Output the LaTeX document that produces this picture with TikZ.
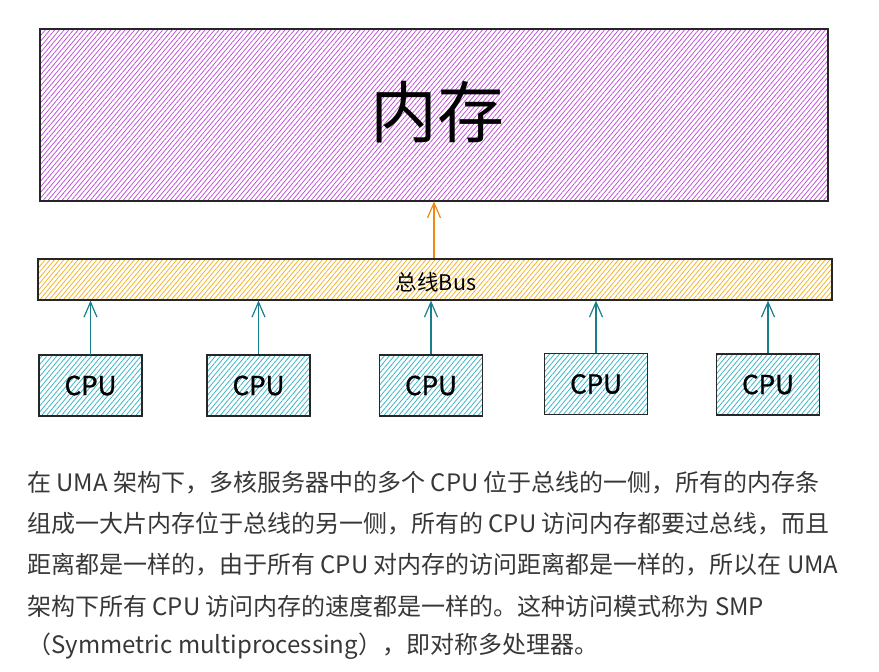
\documentclass[tikz,border=0pt]{standalone}
\usepackage{fontspec}
\setmainfont{Noto Sans CJK SC}
\newfontfamily\cpufont[FakeBold=1.2]{Noto Sans CJK SC}
\usetikzlibrary{patterns.meta,arrows.meta}
\definecolor{memhatch}{HTML}{BE4BDB}
\definecolor{bushatch}{HTML}{F2B01E}
\definecolor{cpuhatch}{HTML}{3BB5C6}
\definecolor{tealarrow}{HTML}{167E8C}
\definecolor{orangearrow}{HTML}{EE8A12}
\definecolor{bodytext}{HTML}{373737}
\tikzset{
  membox/.style={draw=black!85, line width=1.2pt, minimum width=788pt, minimum height=172pt, inner sep=0pt,
    pattern={Lines[angle=50,distance=3.6pt,line width=0.75pt]}, pattern color=memhatch},
  busbox/.style={draw=black!85, line width=1.2pt, minimum width=794pt, minimum height=41pt, inner sep=0pt,
    pattern={Lines[angle=50,distance=3.6pt,line width=0.75pt]}, pattern color=bushatch},
  cpubox/.style={draw=black!85, line width=1.2pt, minimum width=103pt, minimum height=61pt, inner sep=0pt,
    pattern={Lines[angle=50,distance=3.8pt,line width=0.8pt]}, pattern color=cpuhatch,
    font=\cpufont\fontsize{26}{30}\selectfont},
  tealarr/.style={draw=tealarrow, line width=1.2pt, -{Straight Barb[length=15pt,width=13pt,line width=1.2pt]}},
  orangearr/.style={draw=orangearrow, line width=1.2pt, -{Straight Barb[length=15pt,width=13pt,line width=1.2pt]}},
  para/.style={anchor=west, inner sep=0pt, text=bodytext, font=\fontsize{24}{28}\selectfont}
}
\begin{document}
\begin{tikzpicture}[x=1pt,y=-1pt]
\useasboundingbox (0,0) rectangle (879,672);
\node[membox] (mem) at (434,115) {};
\node[font=\fontsize{67}{72}\selectfont] (memlabel) at (437,112) {内存};
\node[busbox] (bus) at (435,279.5) {};
\node[font=\fontsize{21.5}{24}\selectfont] (buslabel) at (436,282) {总线Bus};
\node[cpubox] (c1) at (90.5,385.5) {CPU};
\node[cpubox] (c2) at (258.5,385.5) {CPU};
\node[cpubox] (c3) at (431,385.5) {CPU};
\node[cpubox] (c4) at (596,384) {CPU};
\node[cpubox] (c5) at (768,384.5) {CPU};
\foreach \c in {c1,c2,c3,c4,c5}{
  \draw[tealarr] (\c.north) -- (\c.north |- bus.south);
}
\draw[orangearr] (bus.north -| 434,0) -- (mem.south -| 434,0);
\node[para] (l1) at (27,483) {在 UMA 架构下，多核服务器中的多个 CPU 位于总线的一侧，所有的内存条};
\node[para] (l2) at (27,524) {组成一大片内存位于总线的另一侧，所有的 CPU 访问内存都要过总线，而且};
\node[para] (l3) at (27,565) {距离都是一样的，由于所有 CPU 对内存的访问距离都是一样的，所以在 UMA};
\node[para] (l4) at (27,606) {架构下所有 CPU 访问内存的速度都是一样的。这种访问模式称为 SMP};
\node[para] (l5) at (27,646) {（Symmetric multiprocessing），即对称多处理器。};
\end{tikzpicture}
\end{document}
